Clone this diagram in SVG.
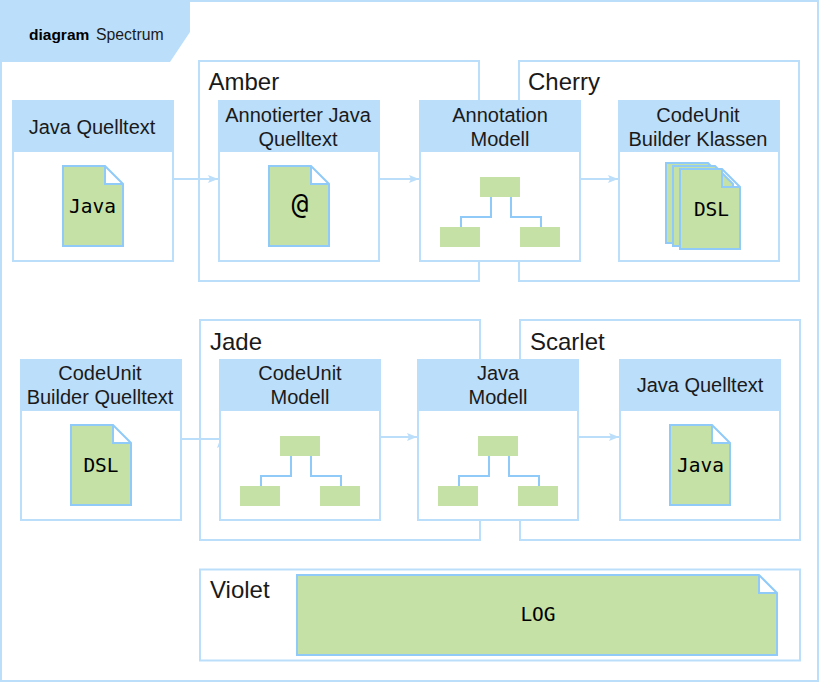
<svg xmlns="http://www.w3.org/2000/svg" width="820" height="682" viewBox="0 0 820 682">
<style>
.b{fill:none;stroke:#bbdefb;stroke-width:2}
.w{fill:#fff;stroke:#bbdefb;stroke-width:2}
.h{fill:#bbdefb;stroke:#bbdefb;stroke-width:2}
.d{fill:#c5e1a5;stroke:#90caf9;stroke-width:2}
.g{fill:#c5e1a5}
.l{fill:none;stroke:#90caf9;stroke-width:2}
.c{fill:none;stroke:#bbdefb;stroke-width:2}
text{font-family:"Liberation Sans",Arial,sans-serif;fill:#1a1a1a}
.t{font-size:20px;text-anchor:middle}
.n{font-size:24px}
.m{font-family:"DejaVu Sans Mono","Liberation Mono",monospace;font-size:19.500px;text-anchor:middle;fill:#000}
</style>
<defs>
<marker id="a" markerWidth="11" markerHeight="9" refX="10" refY="4" orient="auto" markerUnits="userSpaceOnUse"><path d="M0 0L10 4L0 8L2 4Z" fill="#bbdefb"/></marker>
<path id="doc" d="M0 0H42L60 18V80H0Z M42 0V18H60"/>
<path id="docb" d="M0 0H42L60 18V80H0Z"/>
<g id="tree"><rect class="g" x="60" y="0" width="40" height="20"/><rect class="g" x="20" y="50" width="40" height="20"/><rect class="g" x="100" y="50" width="40" height="20"/><path class="l" d="M71 20V40H41V50M91 20V40H121V50"/></g>
</defs>
<rect x="1" y="1" width="817" height="680" class="b"/>
<g id="frame-title"><path d="M0 0H190V32L170 62H0Z" fill="#bbdefb"/><text x="29" y="40" font-size="15.500"><tspan font-weight="bold" fill="#000">diagram</tspan><tspan x="96" font-size="15.800">Spectrum</tspan></text></g>
<g id="amber"><rect class="b" x="199" y="61" width="280" height="220"/><text class="n" x="208.500" y="90">Amber</text></g>
<g id="cherry"><rect class="b" x="519" y="61" width="280" height="220"/><text class="n" x="528" y="90">Cherry</text></g>
<g id="jade"><rect class="b" x="200" y="320" width="280" height="220"/><text class="n" x="210" y="350">Jade</text></g>
<g id="scarlet"><rect class="b" x="520" y="320" width="280" height="220"/><text class="n" x="530" y="350">Scarlet</text></g>
<g id="violet"><rect class="b" x="200" y="569.500" width="600" height="91"/><text class="n" x="210" y="598">Violet</text></g>
<g id="connectors">
<path class="c" d="M173 179H218" marker-end="url(#a)"/>
<path class="c" d="M379 179H419" marker-end="url(#a)"/>
<path class="c" d="M580 179H618" marker-end="url(#a)"/>
<path class="c" d="M181 439H221"/>
<path d="M221 437L225 448L221 446L217 448Z" fill="#bbdefb"/>
<path class="c" d="M380 437H417" marker-end="url(#a)"/>
<path class="c" d="M578 437H619" marker-end="url(#a)"/>
</g>
<g id="n1"><rect class="w" x="13" y="101" width="160" height="160"/><rect class="h" x="13" y="101" width="160" height="50"/><text class="t" x="92" y="134">Java Quelltext</text><use href="#doc" class="d" x="63" y="166"/><text class="m" x="92.500" y="213">Java</text></g>
<g id="n2"><rect class="w" x="219" y="101" width="160" height="160"/><rect class="h" x="219" y="101" width="160" height="50"/><text class="t" x="298" y="122">Annotierter Java</text><text class="t" x="298" y="146">Quelltext</text><use href="#doc" class="d" x="269" y="166"/><text class="m" x="300" y="214" style="font-size:28px">@</text></g>
<g id="n3"><rect class="w" x="420" y="101" width="160" height="160"/><rect class="h" x="420" y="101" width="160" height="50"/><text class="t" x="500" y="122">Annotation</text><text class="t" x="500" y="146">Modell</text><use href="#tree" x="420" y="177"/></g>
<g id="n4"><rect class="w" x="619" y="101" width="160" height="160"/><rect class="h" x="619" y="101" width="160" height="50"/><text class="t" x="698" y="122">CodeUnit</text><text class="t" x="698" y="146">Builder Klassen</text>
<use href="#docb" class="d" x="666" y="163"/><use href="#docb" class="d" x="673" y="166"/><use href="#doc" class="d" x="680" y="169"/><text class="m" x="711.500" y="216">DSL</text></g>
<g id="n5"><rect class="w" x="21" y="360" width="160" height="160"/><rect class="h" x="21" y="360" width="160" height="50"/><text class="t" x="100" y="380">CodeUnit</text><text class="t" x="100" y="404">Builder Quelltext</text><use href="#doc" class="d" x="71" y="425"/><text class="m" x="101" y="472">DSL</text></g>
<g id="n6"><rect class="w" x="220" y="360" width="160" height="160"/><rect class="h" x="220" y="360" width="160" height="50"/><text class="t" x="300" y="380">CodeUnit</text><text class="t" x="300" y="404">Modell</text><use href="#tree" x="220" y="436"/></g>
<g id="n7"><rect class="w" x="418" y="360" width="160" height="160"/><rect class="h" x="418" y="360" width="160" height="50"/><text class="t" x="498" y="380">Java</text><text class="t" x="498" y="404">Modell</text><use href="#tree" x="418" y="436"/></g>
<g id="n8"><rect class="w" x="620" y="360" width="160" height="160"/><rect class="h" x="620" y="360" width="160" height="50"/><text class="t" x="700" y="392">Java Quelltext</text><use href="#doc" class="d" x="670" y="425"/><text class="m" x="700.500" y="472">Java</text></g>
<g id="log"><path class="d" d="M297 575H759L777 593V655H297Z M759 575V593H777"/><text class="m" x="538" y="621">LOG</text></g>
</svg>
